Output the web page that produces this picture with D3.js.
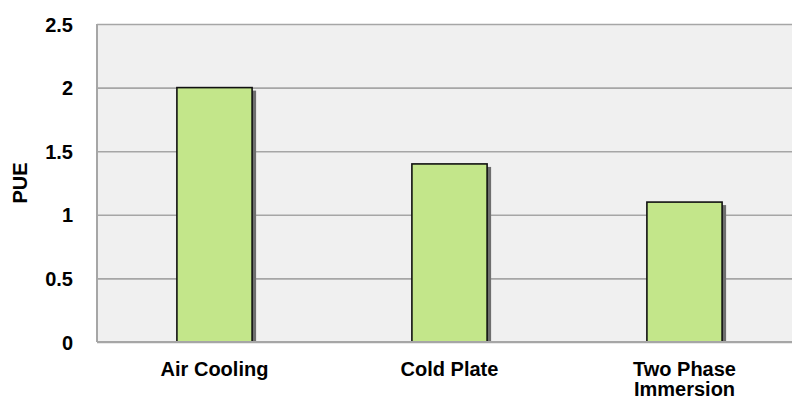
<!DOCTYPE html>
<html>
<head>
<meta charset="utf-8">
<script src="https://cdn.jsdelivr.net/npm/d3@7"></script>
<style>
  html, body { margin: 0; padding: 0; background: #ffffff; }
  svg { display: block; }
  text { font-family: "Liberation Sans", Arial, sans-serif; font-weight: bold; fill: #000; }
</style>
</head>
<body>
<svg id="chart" width="792" height="402"></svg>
<script>
// PUE by cooling method
const categories = ["Air Cooling", "Cold Plate", "Two Phase Immersion"];
const categoryLines = [["Air Cooling"], ["Cold Plate"], ["Two Phase", "Immersion"]];
const pueValues = [2.0, 1.4, 1.1];
const yTicks = [0, 0.5, 1, 1.5, 2, 2.5];
const yTickLabels = ["0", "0.5", "1", "1.5", "2", "2.5"];

const svg = d3.select("#chart");
const margin = { left: 97, top: 24, right: -10, bottom: 60 };
const W = 792, H = 402;
const plotW = W - margin.left - margin.right;
const plotH = H - margin.top - margin.bottom;
const FONT = "20px";

const x = d3.scaleBand().domain(categories).range([0, plotW]).paddingInner(0.68).paddingOuter(0.34);
const y = d3.scaleLinear().domain([0, 2.5]).range([plotH, 0]);

const g = svg.append("g").attr("transform", `translate(${margin.left},${margin.top})`);

// plot background
g.append("rect")
  .attr("x", 0).attr("y", 0).attr("width", plotW).attr("height", plotH)
  .attr("fill", "#f0f0f0");

// horizontal gridlines
const yAxis = d3.axisLeft(y).tickValues(yTicks).tickSize(-plotW).tickFormat((d, i) => yTickLabels[i]);
const yg = g.append("g").call(yAxis);
yg.select(".domain").remove();
yg.selectAll(".tick line").attr("stroke", "#a6a6a6").attr("stroke-width", 1.6);
yg.selectAll(".tick text")
  .attr("x", -24).attr("dy", "0.35em")
  .style("font-size", FONT)
  .style("font-family", "'Liberation Sans', Arial, sans-serif")
  .style("font-weight", "bold")
  .attr("fill", "#000");

// left frame edge
g.append("line").attr("x1", 0).attr("x2", 0).attr("y1", 0).attr("y2", plotH)
  .attr("stroke", "#a6a6a6").attr("stroke-width", 2);

// bar shadows
g.selectAll("rect.shadow").data(pueValues).join("rect")
  .attr("class", "shadow")
  .attr("x", (d, i) => x(categories[i]) + 4)
  .attr("y", d => y(d) + 3)
  .attr("width", x.bandwidth())
  .attr("height", d => plotH - y(d) - 3)
  .attr("fill", "#6e6e6e");

// bars
g.selectAll("rect.bar").data(pueValues).join("rect")
  .attr("class", "bar")
  .attr("x", (d, i) => x(categories[i]))
  .attr("y", d => y(d))
  .attr("width", x.bandwidth())
  .attr("height", d => plotH - y(d))
  .attr("fill", "#c3e68a")
  .attr("stroke", "#111")
  .attr("stroke-width", 1.6);

// baseline
g.append("line").attr("x1", 0).attr("x2", plotW).attr("y1", plotH).attr("y2", plotH)
  .attr("stroke", "#a6a6a6").attr("stroke-width", 2);

// category labels
const xl = g.selectAll("text.cat").data(categories).join("text")
  .attr("class", "cat")
  .attr("text-anchor", "middle")
  .attr("x", d => x(d) + x.bandwidth() / 2)
  .attr("y", plotH + 34)
  .style("font-size", FONT);
xl.each(function(d, i) {
  d3.select(this).selectAll("tspan").data(categoryLines[i]).join("tspan")
    .attr("x", x(d) + x.bandwidth() / 2)
    .attr("dy", (t, j) => j === 0 ? 0 : 20)
    .text(t => t);
});

// y axis title
svg.append("text")
  .attr("transform", `translate(27,${margin.top + plotH / 2}) rotate(-90)`)
  .attr("text-anchor", "middle")
  .style("font-size", FONT)
  .text("PUE");
</script>
</body>
</html>
